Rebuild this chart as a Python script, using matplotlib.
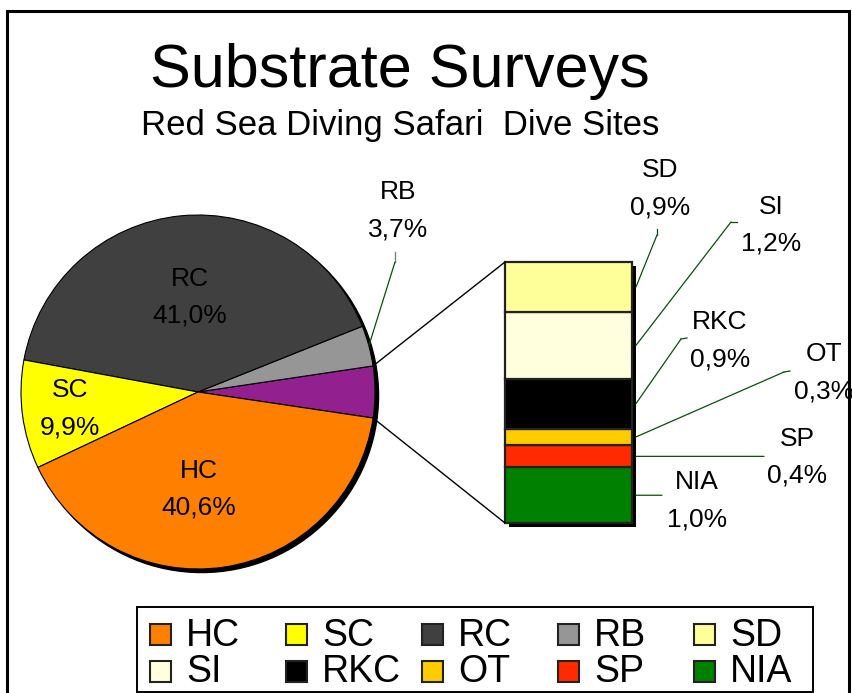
import numpy as np
import matplotlib.pyplot as plt
from matplotlib.patches import Rectangle, Circle, ConnectionPatch

plt.rcParams['font.family'] = ['Liberation Sans', 'DejaVu Sans']

W, H = 853, 693

# main pie
pie_labels = ["HC", "SC", "RC", "RB"]
pie_values = [40.6, 9.9, 41.0, 3.7]
pie_colors = ["#FF7F00", "#FFFF00", "#404040", "#969696"]
other_color = "#92208F"

# breakdown of the small slice (top to bottom)
bar_labels = ["SD", "SI", "RKC", "OT", "SP", "NIA"]
bar_values = [0.9, 1.2, 0.9, 0.3, 0.4, 1.0]
bar_colors = ["#FFFF99", "#FFFFDD", "#000000", "#FFCC00", "#FF2A00", "#008000"]

legend_order = ["HC", "SC", "RC", "RB", "SD", "SI", "RKC", "OT", "SP", "NIA"]


def pct(v):
    return f"{v:.1f}".replace(".", ",") + "%"


def px_rect(x0, y0, x1, y1):
    return [x0 / W, 1 - y1 / H, (x1 - x0) / W, (y1 - y0) / H]


fig = plt.figure(figsize=(W / 100, H / 100), dpi=100)

# overlay axes in pixel coordinates (y down)
ax_bg = fig.add_axes([0, 0, 1, 1])
ax_bg.set_xlim(0, W)
ax_bg.set_ylim(H, 0)
ax_bg.axis("off")
ax_bg.set_zorder(10)

# ---- pie ----
cx, cy, r = 198, 392, 177
ax_pie = fig.add_axes(px_rect(cx - r, cy - r, cx + r, cy + r))
other_total = sum(bar_values)
vals = [other_total] + pie_values[::-1]
cols = [other_color] + pie_colors[::-1]
ax_pie.add_patch(Circle((0.02, -0.02), 1.0, color="black", zorder=0, clip_on=False))
wedges, _ = ax_pie.pie(vals, colors=cols, startangle=-other_total * 1.8,
                       counterclock=True,
                       wedgeprops=dict(edgecolor="black", linewidth=0.8))
for w in wedges:
    w.set_clip_on(False)
ax_pie.set_xlim(-1, 1)
ax_pie.set_ylim(-1, 1)
ax_pie.axis("off")

# ---- bar of pie ----
bx0, by0, bx1, by1 = 505, 262, 632, 523
ax_bar = fig.add_axes(px_rect(bx0, by0, bx1, by1))
ax_bar.set_xlim(-0.5, 0.5)
ax_bar.set_ylim(0, other_total)
ax_bar.axis("off")
dx = 4 / (bx1 - bx0)
dy = 4 * other_total / (by1 - by0)
ax_bar.bar(dx, other_total, bottom=-dy, width=1, color="black", zorder=0, clip_on=False)
bottoms = {}
b = 0
for lab, v, c in zip(bar_labels[::-1], bar_values[::-1], bar_colors[::-1]):
    ax_bar.bar(0, v, bottom=b, width=1, color=c, edgecolor="#222222",
               linewidth=1.6, clip_on=False)
    bottoms[lab] = b
    b += v

# lines pie -> bar
t_top = np.radians(wedges[0].theta2)
t_bot = np.radians(wedges[0].theta1)
for (px_, py_), yb in [((np.cos(t_top), np.sin(t_top)), other_total),
                       ((np.cos(t_bot), np.sin(t_bot)), 0)]:
    fig.add_artist(ConnectionPatch(xyA=(px_, py_), coordsA=ax_pie.transData,
                                   xyB=(-0.5, yb), coordsB=ax_bar.transData,
                                   color="black", lw=1.0, zorder=5))

# leader lines
lead_col = "#0B4F0B"
elbows = {"SD": (657, 235), "SI": (731, 222), "RKC": (681, 339),
          "OT": (784, 372), "SP": (764, None), "NIA": (662, None)}
ticks = {"SD": (657, 229), "SI": (737, 222), "RKC": (687, 338),
         "OT": (790, 371)}
for lab, v in zip(bar_labels, bar_values):
    mid = bottoms[lab] + v / 2
    ex, ey = elbows[lab]
    if ey is None:  # horizontal leader
        ey = H - ax_bar.transData.transform((0, mid))[1]
    fig.add_artist(ConnectionPatch(xyA=(0.5 + dx, mid), coordsA=ax_bar.transData,
                                   xyB=(ex, ey), coordsB=ax_bg.transData,
                                   color=lead_col, lw=0.9, zorder=11))
    if lab in ticks:
        tx, ty = ticks[lab]
        ax_bg.plot([ex, tx], [ey, ty], color=lead_col, lw=0.9)

# RB leader
t_rb = np.radians((wedges[1].theta1 + wedges[1].theta2) / 2)
fig.add_artist(ConnectionPatch(xyA=(np.cos(t_rb), np.sin(t_rb)), coordsA=ax_pie.transData,
                               xyB=(395, 262), coordsB=ax_bg.transData,
                               color=lead_col, lw=0.9, zorder=11))
ax_bg.plot([395, 395], [262, 252], color="#808080", lw=1.0)

# ---- labels ----
label_pos = {"RC": (190, 286), "SC": (70, 397), "HC": (199, 478),
             "RB": (398, 199), "SD": (660, 177), "SI": (771, 214),
             "RKC": (720, 329), "OT": (824, 361), "SP": (797, 446),
             "NIA": (697, 489)}
all_vals = dict(zip(pie_labels, pie_values))
all_vals.update(zip(bar_labels, bar_values))
for lab, (x, y) in label_pos.items():
    ax_bg.text(x, y, lab, fontsize=19, ha="center", va="baseline")
    ax_bg.text(x, y + 37, pct(all_vals[lab]), fontsize=19, ha="center", va="baseline")

# ---- titles ----
ax_bg.text(400, 87, "Substrate Surveys", fontsize=44, ha="center", va="baseline")
ax_bg.text(400, 135, "Red Sea Diving Safari  Dive Sites", fontsize=25,
           ha="center", va="baseline")

# ---- frame ----
ax_bg.plot([7, 7, 849, 849], [H, 11, 11, H], color="black", lw=2.2,
           solid_joinstyle="miter")

# ---- legend ----
all_cols = dict(zip(pie_labels, pie_colors))
all_cols.update(zip(bar_labels, bar_colors))
ax_bg.add_patch(Rectangle((137, 607), 813 - 137, 692 - 607, facecolor="white",
                          edgecolor="black", lw=1.4))
for i, lab in enumerate(legend_order):
    row, col = divmod(i, 5)
    mx = 150 + 136 * col
    my = 624 + 37 * row
    ax_bg.add_patch(Rectangle((mx, my), 21, 21, facecolor=all_cols[lab],
                              edgecolor="#222222", lw=1.5))
    ax_bg.text(mx + 36, 646 + 36 * row, lab, fontsize=27, ha="left", va="baseline")

fig.savefig("out.png", dpi=100)
